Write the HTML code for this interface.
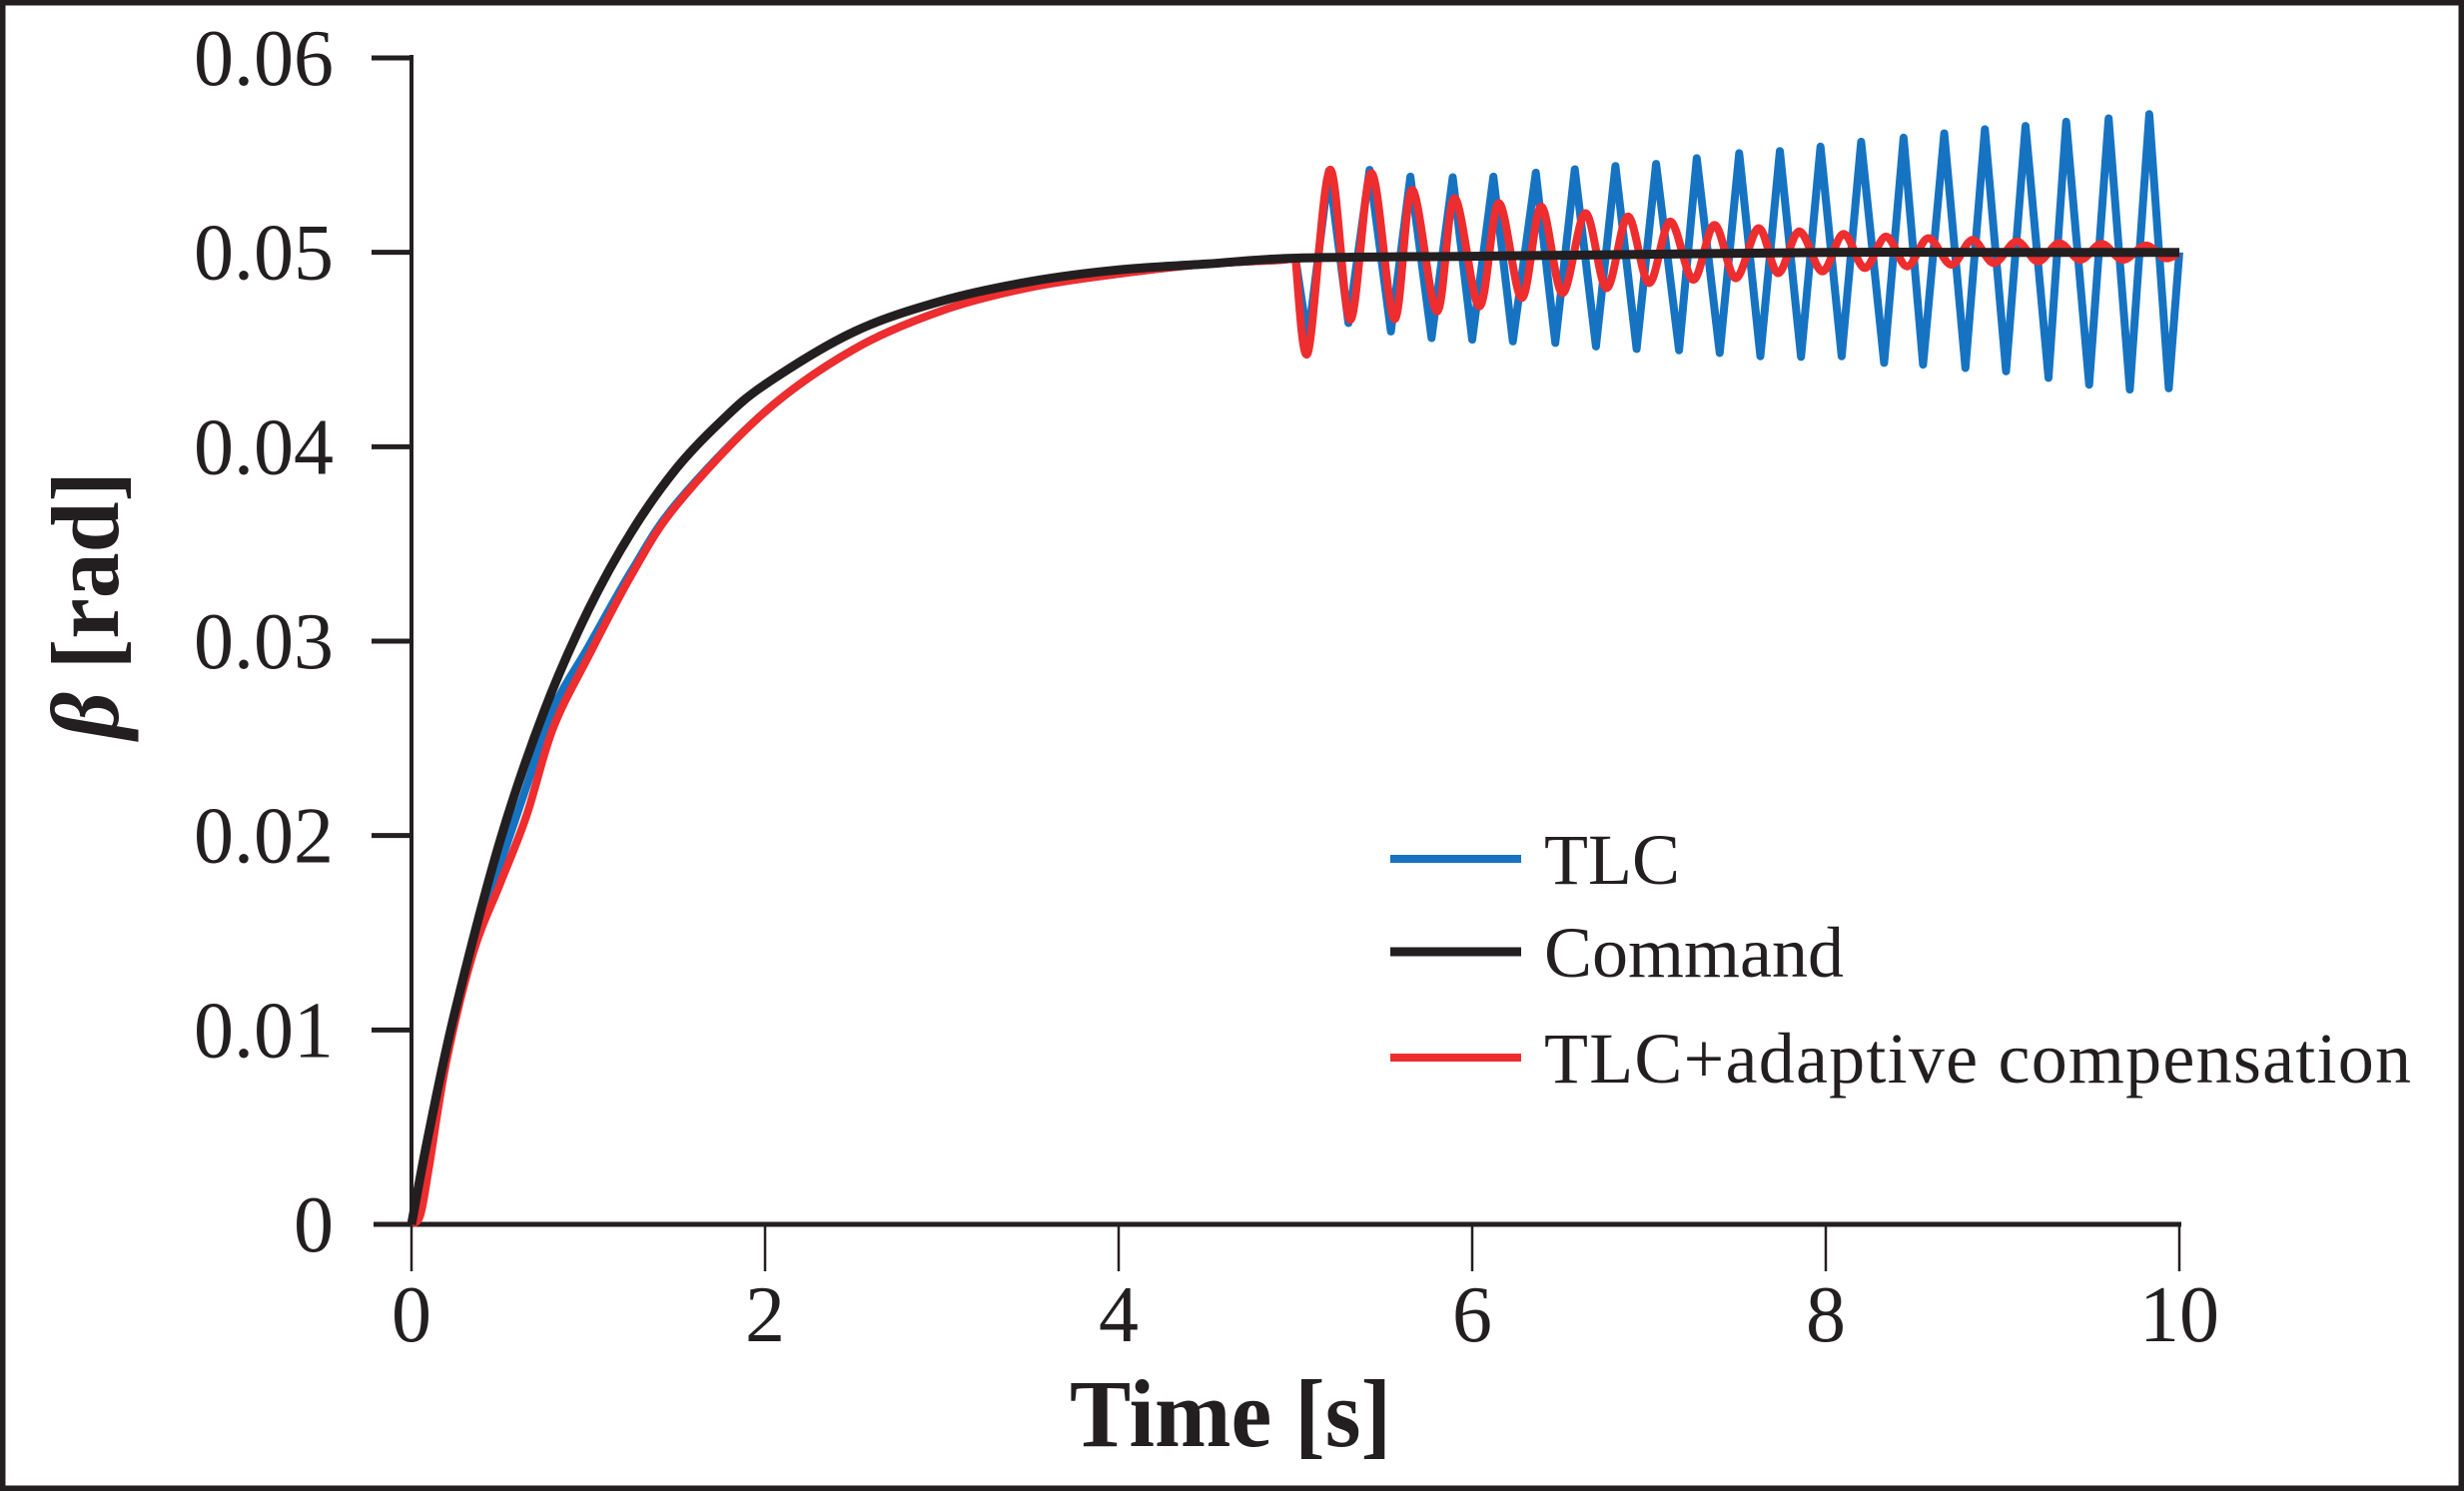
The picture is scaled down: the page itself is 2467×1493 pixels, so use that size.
<!DOCTYPE html>
<html><head><meta charset="utf-8"><style>
html,body{margin:0;padding:0;background:#fff;}
svg{display:block;}
text{font-family:"Liberation Serif",serif;fill:#231f20;}
</style></head><body>
<svg id="chart" width="2467" height="1493" viewBox="0 0 2467 1493" xmlns="http://www.w3.org/2000/svg">
<rect x="2.5" y="2.5" width="2462" height="1488" fill="#fff" stroke="#231f20" stroke-width="6"/>
<g id="axes"></g>
<g id="series"></g>
<g id="legend"></g>
<text x="1232" y="1448" font-size="96" font-weight="bold" text-anchor="middle" textLength="322" lengthAdjust="spacingAndGlyphs">Time [s]</text>
<text transform="translate(118,606) rotate(-90)" font-size="96" font-weight="bold" text-anchor="middle" textLength="268" lengthAdjust="spacingAndGlyphs"><tspan font-style="italic">β</tspan> [rad]</text>
</svg>
<script>
const xTicks = [0, 2, 4, 6, 8, 10];
const yTicks = [0, 0.01, 0.02, 0.03, 0.04, 0.05, 0.06];
const yTickLabels = ["0", "0.01", "0.02", "0.03", "0.04", "0.05", "0.06"];
const seriesNames = ["TLC", "Command", "TLC+adaptive compensation"];

const commandT = [0,0.1,0.25,0.5,0.75,1,1.25,1.5,1.75,2,2.5,3,3.5,4,4.5,5,6,7,8,9,10];
const commandV = [0,0.0048,0.0111,0.0197,0.0264,0.0316,0.0357,0.0389,0.0413,0.0432,0.0459,0.0475,0.0485,0.0491,0.0494,0.0497,0.0498,0.0499,0.0500,0.0500,0.0500];

const redPreT = [0,0.05,0.1,0.2,0.35,0.5,0.65,0.8,1.0,1.25,1.5,2,2.5,3,3.5,4,4.5,4.9,5];
const redPreV = [0,0.0005,0.003,0.0085,0.0140,0.0175,0.0210,0.0255,0.0292,0.0335,0.0370,0.0418,0.0450,0.0470,0.0482,0.0489,0.0494,0.0496,0.0497];
const bluePreV = [0,0.0008,0.0035,0.009,0.0145,0.0185,0.0225,0.0265,0.0297,0.0337,0.0371,0.0418,0.0450,0.0470,0.0482,0.0489,0.0494,0.0496,0.0497];

const bluePeakT = [5.19,5.42,5.65,5.89,6.12,6.36,6.58,6.81,7.04,7.27,7.51,7.74,7.97,8.20,8.44,8.67,8.90,9.13,9.36,9.60,9.83];
const bluePeakV = [0.0542,0.05424,0.05389,0.05386,0.05389,0.0541,0.05427,0.05444,0.05455,0.05484,0.0551,0.05521,0.05544,0.05569,0.0559,0.05612,0.05633,0.0565,0.05672,0.05689,0.05711];
const blueTroughT = [5.07,5.30,5.54,5.77,6.00,6.23,6.47,6.70,6.93,7.17,7.40,7.63,7.86,8.09,8.33,8.55,8.79,9.02,9.26,9.49,9.72,9.94];
const blueTroughV = [0.0455,0.04636,0.04593,0.04559,0.04551,0.04542,0.04534,0.04516,0.04503,0.04496,0.04482,0.04465,0.04462,0.04465,0.04431,0.04422,0.04405,0.04388,0.04354,0.04319,0.04294,0.0430];
const blueEndV = 0.0500;

const redPeakT = [5.195,5.43,5.66,5.90,6.15,6.39,6.64,6.88,7.12,7.37,7.62,7.85,8.10,8.34,8.58,8.83,9.08,9.32,9.56,9.81];
const redPeakV = [0.05424,0.05407,0.05321,0.05278,0.05253,0.05235,0.05201,0.05184,0.05158,0.05141,0.05124,0.05107,0.05095,0.05081,0.05073,0.05064,0.05056,0.05047,0.05044,0.05035];
const redTroughT = [5.07,5.31,5.56,5.80,6.04,6.28,6.51,6.76,7.00,7.25,7.49,7.73,7.98,8.22,8.46,8.71,8.95,9.20,9.44,9.68,9.92];
const redTroughV = [0.04482,0.04653,0.04657,0.04696,0.04722,0.04765,0.0479,0.04816,0.04842,0.04859,0.04867,0.04893,0.04902,0.04919,0.04928,0.04936,0.04945,0.04953,0.04962,0.04962,0.0497];
const redEndV = 0.0500;

const NS = "http://www.w3.org/2000/svg";
const X0 = 412, X1 = 2182, Y0 = 1226, Y1 = 58;
function sx(t){ return X0 + (t - 0) / (10 - 0) * (X1 - X0); }
function sy(v){ return Y0 - (v - 0) / (0.06 - 0) * (Y0 - Y1); }
function mk(tag, attrs, parent){
  const e = document.createElementNS(NS, tag);
  for (const k in attrs) e.setAttribute(k, attrs[k]);
  parent.appendChild(e); return e;
}
function merge(ta, va, tb, vb){
  const pts = [];
  ta.forEach((t,i)=>pts.push([t, va[i]]));
  tb.forEach((t,i)=>pts.push([t, vb[i]]));
  pts.sort((a,b)=>a[0]-b[0]);
  return pts;
}
function smoothPath(pts){
  const p = pts.map(d=>[sx(d[0]), sy(d[1])]);
  let s = "M" + p[0][0].toFixed(1) + "," + p[0][1].toFixed(1);
  for (let i=0;i<p.length-1;i++){
    const a=p[Math.max(0,i-1)], b=p[i], c=p[i+1], d=p[Math.min(p.length-1,i+2)];
    const c1=[b[0]+(c[0]-a[0])/6, b[1]+(c[1]-a[1])/6];
    const c2=[c[0]-(d[0]-b[0])/6, c[1]-(d[1]-b[1])/6];
    s += " C"+c1[0].toFixed(1)+","+c1[1].toFixed(1)+" "+c2[0].toFixed(1)+","+c2[1].toFixed(1)+" "+c[0].toFixed(1)+","+c[1].toFixed(1);
  }
  return s;
}
function linePath(pts){
  return pts.map((d,i)=>(i?"L":"M")+sx(d[0]).toFixed(1)+","+sy(d[1]).toFixed(1)).join(" ");
}

const axes = document.getElementById("axes");
const series = document.getElementById("series");
const legend = document.getElementById("legend");

const yAxis = mk("line", {x1:X0, y1:Y1-3, x2:X0, y2:Y0, stroke:"#231f20", "stroke-width":4}, axes);


const xAxis = mk("line", {x1:X0-38, y1:Y0, x2:X1+2, y2:Y0, stroke:"#231f20", "stroke-width":5}, axes);



yTicks.forEach((v,i)=>{
  if (v !== 0){
    const tk = mk("line", {x1:X0-40, y1:sy(v), x2:X0, y2:sy(v), stroke:"#231f20", "stroke-width":5}, axes);
    
    
  }
  const lb = mk("text", {x:334, y:sy(v)+27, "font-size":80, "text-anchor":"end"}, axes);
  lb.textContent = yTickLabels[i];
  
  
});
xTicks.forEach(t=>{
  const tk = mk("line", {x1:sx(t), y1:Y0, x2:sx(t), y2:Y0+47, stroke:"#231f20", "stroke-width":2.5}, axes);
  
  
  const lb = mk("text", {x:sx(t), y:1343, "font-size":80, "text-anchor":"middle"}, axes);
  lb.textContent = String(t);
  
  
});

// TLC (blue)
const bluePts = redPreT.map((t,i)=>[t, bluePreV[i]]);
const blueOsc = merge(bluePeakT, bluePeakV, blueTroughT, blueTroughV);
blueOsc.push([10, blueEndV]);
const blueA = mk("path", {d: smoothPath(bluePts) + " " + linePath(blueOsc).replace(/^M/,"L"), fill:"none", stroke:"#1673c2", "stroke-width":8, "stroke-linejoin":"round"}, series);



// TLC + adaptive (red)
const redPts = redPreT.map((t,i)=>[t, redPreV[i]]);
const redOsc = merge(redPeakT, redPeakV, redTroughT, redTroughV);
redOsc.push([10, redEndV]);
const redL = mk("path", {d: smoothPath(redPts) + " " + smoothPath([redPts[redPts.length-1]].concat(redOsc)).replace(/^M[^C]*/,""), fill:"none", stroke:"#ee2d2f", "stroke-width":8, "stroke-linejoin":"round"}, series);



// Command (black)
const cmdPts = commandT.map((t,i)=>[t, commandV[i]]);
const cmdL = mk("path", {d: smoothPath(cmdPts), fill:"none", stroke:"#231f20", "stroke-width":9}, series);



// legend
const legColors = ["#1673c2", "#231f20", "#ee2d2f"];
const legY = [860, 953, 1059];
seriesNames.forEach((n,i)=>{
  const ln = mk("line", {x1:1392, y1:legY[i], x2:1523, y2:legY[i], stroke:legColors[i], "stroke-width":i===1?9:8}, legend);
  
  
  const tx = mk("text", {x:1546, y:legY[i]+25, "font-size":72}, legend);
  tx.textContent = n;
  if (i===2) tx.setAttribute("textLength", "868");
  
  
});
</script>
</body></html>
